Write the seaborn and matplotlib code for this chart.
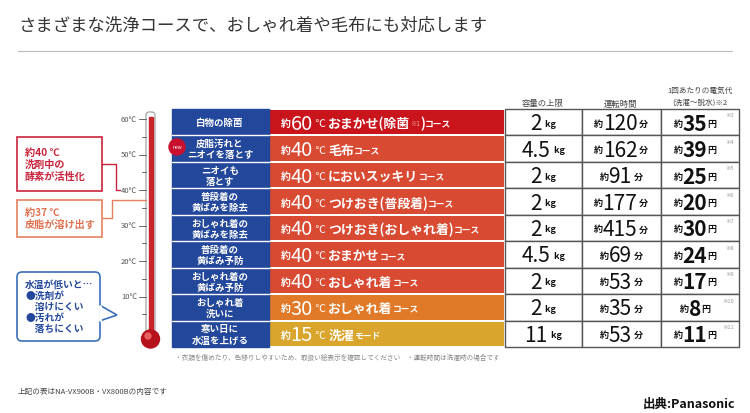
import numpy as np
import matplotlib
matplotlib.use("Agg")
import matplotlib.pyplot as plt
from matplotlib.patches import Rectangle, Circle, FancyBboxPatch, Polygon
from matplotlib.colors import LinearSegmentedColormap
import seaborn as sns

sns.set_theme(style="white")
plt.rcParams["font.family"] = "Noto Sans CJK JP"

# ---- data ----
row_labels = ["白物の除菌", "皮脂汚れと\nニオイを落とす", "ニオイも\n落とす", "普段着の\n黄ばみを除去",
              "おしゃれ着の\n黄ばみを除去", "普段着の\n黄ばみ予防", "おしゃれ着の\n黄ばみ予防",
              "おしゃれ着\n洗いに", "寒い日に\n水温を上げる"]
temps = [60, 40, 40, 40, 40, 40, 40, 30, 15]
course_names = ["おまかせ(除菌※1)", "毛布", "においスッキリ", "つけおき(普段着)", "つけおき(おしゃれ着)",
                "おまかせ", "おしゃれ着", "おしゃれ着", "洗濯"]
course_suffix = ["コース"] * 8 + ["モード"]
capacity = ["2", "4.5", "2", "2", "2", "4.5", "2", "2", "11"]
run_minutes = [120, 162, 91, 177, 415, 69, 53, 35, 53]
cost_yen = [35, 39, 25, 20, 30, 24, 17, 8, 11]
cost_notes = ["※3", "※4", "※5", "※6", "※7", "※8", "※9", "※10", "※11"]
therm_ticks = [60, 50, 40, 30, 20, 10]

W, H = 750, 414
fig = plt.figure(figsize=(7.5, 4.14), dpi=100)

top, bot = 110, 348
n = len(temps)
rh = (bot - top) / n
def fx(x): return x / W
def fy(y): return 1 - y / H

hax = fig.add_axes([fx(269), fy(bot), fx(505 - 269), (bot - top) / H])
cmap = LinearSegmentedColormap.from_list(
    "t", [(0, "#d9a52c"), (15 / 45, "#e07a28"), (25 / 45, "#d94a32"), (1, "#c9141b")])
sns.heatmap(np.array(temps).reshape(-1, 1), ax=hax, cmap=cmap, vmin=15, vmax=60,
            cbar=False, linewidths=1.2, linecolor="white", xticklabels=False, yticklabels=False)
hax.axis("off")

ax = fig.add_axes([0, 0, 1, 1])
ax.set_xlim(0, W); ax.set_ylim(H, 0); ax.axis("off")
ax.patch.set_alpha(0)
renderer = fig.canvas.get_renderer()

def chain(segs, x, y, align="left", va="center"):
    arts = []
    for s, size, wt, col in segs:
        t = ax.text(0, y, s, fontsize=size, fontweight=wt, color=col, va=va, ha="left")
        arts.append(t)
    widths = [a.get_window_extent(renderer).width for a in arts]
    total = sum(widths)
    cx = x - total / 2 if align == "center" else x
    for a, w in zip(arts, widths):
        a.set_x(cx); cx += w

ax.text(18, 26, "さまざまな洗浄コースで、おしゃれ着や毛布にも対応します", fontsize=12.5,
        color="#333333", va="center", ha="left")
ax.plot([18, 732], [52, 52], color="#bbbbbb", lw=0.8)

ax.add_patch(Rectangle((172, top), 97, bot - top, color="#23479a", zorder=1))
for i, lab in enumerate(row_labels):
    yc = top + (i + 0.5) * rh
    if i > 0:
        ax.plot([172, 269], [top + i * rh] * 2, color="white", lw=1.0, zorder=2)
    ax.text(220, yc, lab, fontsize=6.8, color="white", fontweight="bold", ha="center",
            va="center", linespacing=1.15, zorder=3)

ax.add_patch(Circle((177, 148), 8, color="#c8102e", zorder=4))
ax.text(177, 148, "new", fontsize=3.5, color="white", ha="center", va="center", zorder=5)

for i in range(n):
    yc = top + (i + 0.5) * rh + 1
    name = course_names[i]
    segs = [("約", 7, "bold", "white"), (str(temps[i]), 14.5, "normal", "white"),
            (" ℃ ", 7.5, "normal", "white")]
    if "※1" in name:
        a, b = name.split("※1")
        segs += [(a, 9.3, "bold", "white"), ("※1", 4.5, "normal", "#f3b0a0"), (b, 9.3, "bold", "white")]
    else:
        segs += [(name, 9.3, "bold", "white")]
    segs += [(course_suffix[i], 6.3, "bold", "white")]
    chain(segs, 281, yc)

cols = [(505, 582), (582, 661), (661, 739)]
for (x0, x1) in cols:
    for i in range(n):
        ax.add_patch(Rectangle((x0, top + i * rh), x1 - x0, rh, facecolor="white",
                               edgecolor="#555555", lw=1.0))
ax.text(543, 104, "容量の上限", fontsize=6, color="#444444", ha="center", va="center")
ax.text(621, 104, "運転時間", fontsize=6, color="#444444", ha="center", va="center")
ax.text(700, 91, "1回あたりの電気代", fontsize=5.5, color="#444444", ha="center", va="center")
ax.text(700, 103, "(洗濯〜脱水)※2", fontsize=5.5, color="#444444", ha="center", va="center")
for i in range(n):
    yc = top + (i + 0.5) * rh + 1
    chain([(capacity[i], 15, "normal", "#111111"), ("  kg", 6.5, "bold", "#111111")], 543, yc, "center")
    chain([("約", 6.5, "bold", "#111111"), (str(run_minutes[i]), 15, "normal", "#111111"),
           (" 分", 6.5, "bold", "#111111")], 621, yc, "center")
    chain([("約", 6.5, "bold", "#111111"), (str(cost_yen[i]), 15, "bold", "#111111"),
           ("円", 6.5, "bold", "#111111")], 695, yc, "center")
    ax.text(734, top + i * rh + 6, cost_notes[i], fontsize=4, color="#999999", ha="right", va="center")

def ty(t): return 333 - t * 3.55
ax.add_patch(FancyBboxPatch((146, 113), 9, 225, boxstyle="round,pad=0,rounding_size=3",
                            facecolor="white", edgecolor="#999999", lw=0.8))
ax.add_patch(Rectangle((148.5, 118), 4, 220, color="#c8242b"))
ax.add_patch(Circle((150.5, 340), 9, color="#b5121b"))
ax.add_patch(Circle((148, 337), 3, color="#e86060"))
for t in range(5, 65, 5):
    ln = 7 if t % 10 == 0 else 4
    ax.plot([146 - ln, 146], [ty(t)] * 2, color="#666666", lw=0.7)
for t in therm_ticks:
    ax.text(137, ty(t), f"{t}℃", fontsize=5.5, color="#555555", ha="right", va="center")

ax.add_patch(Rectangle((17, 138), 85, 54, facecolor="white", edgecolor="#c8243b", lw=1.2))
ax.text(25, 165, "約40 ℃\n洗剤中の\n酵素が活性化", fontsize=7.3, color="#c8243b", fontweight="bold",
        va="center", ha="left", linespacing=1.25)
ax.plot([102, 116, 116, 120], [165, 165, 191, 191], color="#c8243b", lw=1.0)
ax.add_patch(Rectangle((17, 201), 85, 37, facecolor="white", edgecolor="#e58060", lw=1.2))
ax.text(25, 219, "約37 ℃\n皮脂が溶け出す", fontsize=7.3, color="#e07050", fontweight="bold",
        va="center", ha="left", linespacing=1.25)
ax.plot([102, 112, 112, 146], [219, 219, 201, 201], color="#e58060", lw=1.0)
ax.add_patch(FancyBboxPatch((17, 273), 83, 69, boxstyle="round,pad=0,rounding_size=5",
                            facecolor="white", edgecolor="#3a6fb8", lw=1.2))
ax.add_patch(Polygon([[99.5, 306], [117, 316], [99.5, 322]], closed=False, facecolor="white",
                     edgecolor="#3a6fb8", lw=1.2, zorder=3))
ax.plot([99.5, 99.5], [307, 321], color="white", lw=2, zorder=4)
ax.text(25, 307, "水温が低いと…\n●洗剤が\n　溶けにくい\n●汚れが\n　落ちにくい", fontsize=7,
        color="#23479a", fontweight="bold", va="center", ha="left", linespacing=1.15)

ax.text(175, 358, "・衣類を傷めたり、色移りしやすいため、取扱い絵表示を確認してください　・運転時間は洗濯時の場合です",
        fontsize=4.8, color="#888888", ha="left", va="center")
ax.text(18, 392, "上記の表はNA-VX900B・VX800Bの内容です", fontsize=5.5, color="#444444", ha="left", va="center")
ax.text(735, 404, "出典:Panasonic", fontsize=9, color="#111111", fontweight="bold", ha="right", va="center")

fig.savefig("out.png", dpi=100)
